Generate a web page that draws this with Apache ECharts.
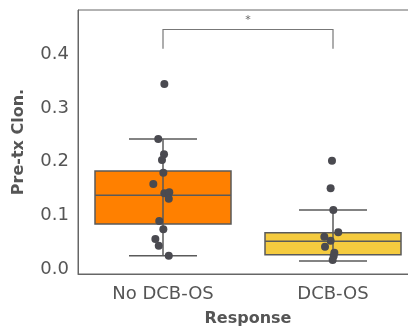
<!DOCTYPE html>
<html><head><meta charset="utf-8">
<script src="https://cdn.jsdelivr.net/npm/echarts@6/dist/echarts.min.js"></script>
<style>html,body{margin:0;padding:0;background:#fff}#c{width:408px;height:330px}</style>
</head><body><div id="c"></div>
<script>
// ---- data ----
const categories = ['No DCB-OS', 'DCB-OS'];
const boxColors = ['#FF8000', '#F5CB3F'];
// [whiskerLow, Q1, median, Q3, whiskerHigh]
const boxNoDCB = [0.0245, 0.0838, 0.1372, 0.1825, 0.242];
const boxDCB = [0.015, 0.0266, 0.0516, 0.0676, 0.110];
// individual points and their horizontal jitter (category units)
const ptsNoDCB = [0.3445, 0.242, 0.2136, 0.203, 0.1793, 0.1583, 0.141, 0.1428, 0.1309, 0.0894, 0.0739, 0.0559, 0.0434, 0.0245];
const jitNoDCB = [0.008, -0.028, 0.006, -0.006, 0.002, -0.057, 0.008, 0.037, 0.034, -0.022, 0.002, -0.045, -0.025, 0.034];
const ptsDCB = [0.2017, 0.1503, 0.110, 0.0683, 0.0601, 0.0527, 0.0415, 0.0304, 0.0242, 0.0168];
const jitDCB = [-0.006, -0.014, 0.002, 0.031, -0.051, -0.014, -0.047, 0.008, 0.004, -0.002];
const yTicks = [0.0, 0.1, 0.2, 0.3, 0.4];
const yRange = [-0.0093, 0.4823];
const sigPair = [0, 1];
const sigLevel = 0.446;
const sigDrop = 0.41;
const sigText = '*';

const boxData = [[0].concat(boxNoDCB), [1].concat(boxDCB)];
const scatterData = ptsNoDCB.map((v, i) => [0 + jitNoDCB[i], v])
  .concat(ptsDCB.map((v, i) => [1 + jitDCB[i], v]));

const FONT = 'DejaVu Sans';
const LINE = '#5a5a5a';
const chart = echarts.init(document.getElementById('c'), null, {renderer: 'canvas'});
chart.setOption({
  animation: false,
  grid: {left: 78, top: 10, right: -10, bottom: 56, show: true, borderColor: '#666', borderWidth: 1,
    containLabel: false, outerBoundsMode: 'none'},
  xAxis: [{
    type: 'category', data: categories, boundaryGap: true,
    axisLine: {onZero: false, lineStyle: {color: '#666', width: 1}},
    axisTick: {show: false},
    axisLabel: {fontFamily: FONT, fontSize: 18, color: '#555', margin: 11},
    name: 'Response', nameLocation: 'middle', nameGap: 37,
    nameTextStyle: {fontFamily: FONT, fontSize: 16, fontWeight: 'bold', color: '#555'}
  }, {
    type: 'value', min: -0.5, max: 1.5, show: false
  }],
  yAxis: {
    type: 'value', min: yRange[0], max: yRange[1],
    splitLine: {show: false},
    axisLine: {show: true, onZero: false, lineStyle: {color: '#666', width: 1}},
    axisTick: {show: false},
    axisLabel: {customValues: yTicks, formatter: v => v.toFixed(1), fontFamily: FONT, fontSize: 18, color: '#555', margin: 9},
    name: 'Pre-tx Clon.', nameLocation: 'middle', nameGap: 51,
    nameTextStyle: {fontFamily: FONT, fontSize: 16, fontWeight: 'bold', color: '#555'}
  },
  series: [{
    type: 'custom', xAxisIndex: 0, data: boxData, z: 2,
    renderItem: function (params, api) {
      const c = api.value(0);
      const wl = api.value(1), q1 = api.value(2), md = api.value(3), q3 = api.value(4), wh = api.value(5);
      const band = api.size([1, 0])[0];
      const bw = band * 0.8, cw = bw / 2;
      const pq1 = api.coord([c, q1]), pq3 = api.coord([c, q3]), pmd = api.coord([c, md]);
      const pwl = api.coord([c, wl]), pwh = api.coord([c, wh]);
      const x = pq1[0];
      const ls = {stroke: LINE, lineWidth: 1.5};
      return {type: 'group', children: [
        {type: 'rect', shape: {x: x - bw / 2, y: pq3[1], width: bw, height: pq1[1] - pq3[1]},
          style: {fill: boxColors[c], stroke: LINE, lineWidth: 1.5}},
        {type: 'line', shape: {x1: x, y1: pwl[1], x2: x, y2: pwh[1]}, style: ls},
        {type: 'line', shape: {x1: x - bw / 2, y1: pmd[1], x2: x + bw / 2, y2: pmd[1]}, style: ls},
        {type: 'line', shape: {x1: x - cw / 2, y1: pwl[1], x2: x + cw / 2, y2: pwl[1]}, style: ls},
        {type: 'line', shape: {x1: x - cw / 2, y1: pwh[1], x2: x + cw / 2, y2: pwh[1]}, style: ls}
      ]};
    }
  }, {
    type: 'scatter', xAxisIndex: 1, data: scatterData, symbolSize: 8, z: 5,
    itemStyle: {color: '#4a4a50', opacity: 1}
  }, {
    type: 'custom', xAxisIndex: 0, data: [[sigPair[0], sigPair[1], sigLevel, sigDrop]], z: 3,
    renderItem: function (params, api) {
      const a = api.coord([api.value(0), api.value(2)]);
      const b = api.coord([api.value(1), api.value(2)]);
      const ad = api.coord([api.value(0), api.value(3)]);
      const ls = {stroke: '#777', lineWidth: 1.2, fill: null};
      return {type: 'group', children: [
        {type: 'polyline', shape: {points: [[a[0], ad[1]], a, b, [b[0], ad[1]]]}, style: ls},
        {type: 'text', x: (a[0] + b[0]) / 2, y: a[1] - 4,
          style: {text: sigText, fontFamily: FONT, fontSize: 11, fill: '#666', align: 'center', verticalAlign: 'bottom'}}
      ]};
    }
  }]
});
</script></body></html>
